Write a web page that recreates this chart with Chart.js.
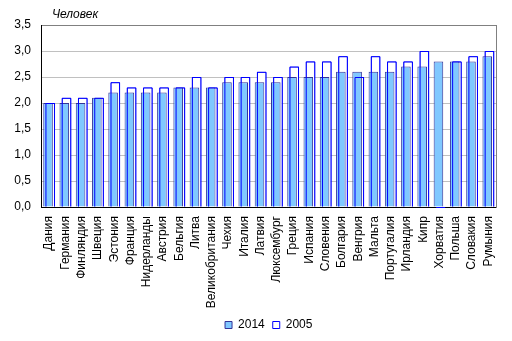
<!DOCTYPE html>
<html>
<head>
<meta charset="utf-8">
<script src="https://cdn.jsdelivr.net/npm/chart.js@4/dist/chart.umd.min.js"></script>
<style>
  html, body { margin: 0; padding: 0; background: #ffffff; }
  #wrap { width: 512px; height: 341px; }
</style>
</head>
<body>
<div id="wrap"><canvas id="c" width="512" height="341"></canvas></div>
<script>
// Average household size by country, persons
const countries = ['Дания','Германия','Финляндия','Швеция','Эстония','Франция','Нидерланды','Австрия','Бельгия','Литва','Великобритания','Чехия','Италия','Латвия','Люксембург','Греция','Испания','Словения','Болгария','Венгрия','Мальта','Португалия','Ирландия','Кипр','Хорватия','Польша','Словакия','Румыния'];
const values2014 = [2.0,2.0,2.0,2.1,2.2,2.2,2.2,2.2,2.3,2.3,2.3,2.4,2.4,2.4,2.4,2.5,2.5,2.5,2.6,2.6,2.6,2.6,2.7,2.7,2.8,2.8,2.8,2.9];
const values2005 = [2.0,2.1,2.1,2.1,2.4,2.3,2.3,2.3,2.3,2.5,2.3,2.5,2.5,2.6,2.5,2.7,2.8,2.8,2.9,2.5,2.9,2.8,2.8,3.0,null,2.8,2.9,3.0];
const seriesNames = ['2014', '2005'];
const unitLabel = 'Человек';

const FONT = '"Liberation Sans", Arial, sans-serif';
Chart.defaults.font.family = FONT;
Chart.defaults.font.size = 12;
Chart.defaults.color = '#000000';

// Outline of the 2005 bars is stroked again above the 2014 bars
const outlineOnTop = {
  id: 'outlineOnTop',
  afterDatasetsDraw(chart) {
    const meta = chart.getDatasetMeta(1);
    const ctx = chart.ctx;
    ctx.save();
    ctx.strokeStyle = '#0000ff';
    ctx.lineWidth = 1;
    meta.data.forEach((el) => {
      const p = el.getProps(['x', 'y', 'base', 'width'], true);
      if (!isFinite(p.y) || !isFinite(p.base)) return;
      const l = p.x - p.width / 2 + 0.5;
      const r = p.x + p.width / 2 - 0.5;
      ctx.beginPath();
      ctx.moveTo(l, p.base);
      ctx.lineTo(l, p.y + 0.5);
      ctx.lineTo(r, p.y + 0.5);
      ctx.lineTo(r, p.base);
      ctx.stroke();
    });
    ctx.restore();
  }
};

// Unit caption above the plot
const unitCaption = {
  id: 'unitCaption',
  afterDraw(chart) {
    const ctx = chart.ctx;
    ctx.save();
    ctx.font = 'italic 12px ' + FONT;
    ctx.fillStyle = '#000000';
    ctx.textAlign = 'left';
    ctx.textBaseline = 'alphabetic';
    ctx.fillText(unitLabel, chart.chartArea.left + 11, chart.chartArea.top - 7);
    ctx.restore();
  }
};

new Chart(document.getElementById('c'), {
  type: 'bar',
  data: {
    labels: countries,
    datasets: [
      {
        label: seriesNames[0],
        data: values2014,
        backgroundColor: '#80c8ff',
        borderColor: '#333399',
        borderWidth: 1,
        categoryPercentage: 0.27,
        barPercentage: 4.36
      },
      {
        label: seriesNames[1],
        data: values2005,
        backgroundColor: '#ffffff',
        borderColor: '#0000ff',
        borderWidth: 1,
        categoryPercentage: 0.27,
        barPercentage: 4.36
      }
    ]
  },
  options: {
    responsive: false,
    animation: false,
    devicePixelRatio: 1,
    layout: { padding: { top: 25, left: 0, right: 14, bottom: 0 } },
    plugins: {
      legend: {
        position: 'bottom',
        fullSize: false,
        labels: {
          boxWidth: 7,
          boxHeight: 7,
          padding: 8,
          font: { size: 12 },
          color: '#000000'
        }
      },
      tooltip: { enabled: false },
      title: { display: false }
    },
    scales: {
      x: {
        grid: { display: false, drawTicks: false },
        border: { color: '#000000', width: 1 },
        ticks: {
          autoSkip: false,
          maxRotation: 90,
          minRotation: 90,
          padding: 9,
          font: { size: 12 },
          color: '#000000'
        },
        afterFit(scale) { scale.height = 104; }
      },
      y: {
        min: 0,
        max: 3.5,
        grid: {
          color: (c) => (c.tick && c.tick.value === 3.5 ? '#808080' : '#c0c0c0'),
          drawTicks: false
        },
        border: { color: '#000000', width: 1 },
        ticks: {
          stepSize: 0.5,
          padding: 10,
          font: { size: 12 },
          color: '#000000',
          callback: (v) => v.toFixed(1).replace('.', ',')
        },
        afterFit(scale) { scale.width = 41; }
      },
      yRight: {
        position: 'right',
        min: 0,
        max: 3.5,
        grid: { drawOnChartArea: false, drawTicks: false },
        border: { color: '#808080', width: 1 },
        ticks: { display: false },
        afterFit(scale) { scale.width = 0; }
      }
    }
  },
  plugins: [outlineOnTop, unitCaption]
});
</script>
</body>
</html>
